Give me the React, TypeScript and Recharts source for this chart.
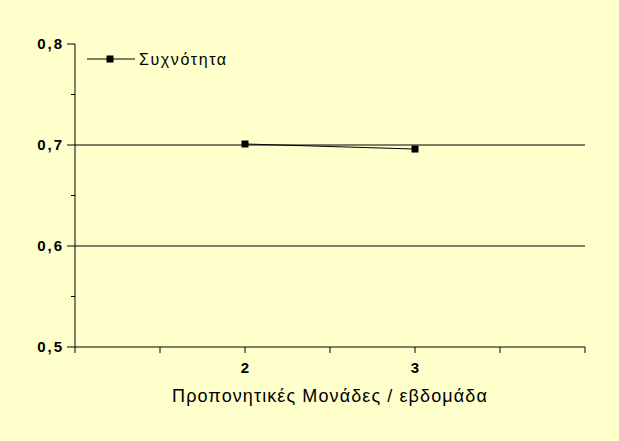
import { LineChart, Line, XAxis, YAxis, ReferenceLine } from 'recharts';

const seriesName = 'Συχνότητα';
const xValues = [2, 3];
const freqValues = [0.701, 0.696];
const xTicks = [1, 1.5, 2, 2.5, 3, 3.5, 4];
const xLabeled = [2, 3];
const yTicks = [0.5, 0.55, 0.6, 0.65, 0.7, 0.75, 0.8];
const yLabeled = [0.5, 0.6, 0.7, 0.8];
const gridValues = [0.6, 0.7];
const xTitle = 'Προπονητικές Μονάδες / εβδομάδα';

const data = xValues.map((x, i) => ({ x, freq: freqValues[i] }));

const FONT = '"Liberation Sans", Arial, sans-serif';
const BG = '#FFFFCC';

const isIn = (list: number[], v: number) => list.some((l) => Math.abs(l - v) < 1e-9);

function YTick(props: any) {
  const { x, y, payload } = props;
  const major = isIn(yLabeled, payload.value);
  const len = major ? 8 : 4;
  return (
    <g>
      <line x1={x - len} x2={x} y1={y} y2={y} stroke="#000" />
      {major && (
        <text x={x - 11} y={y + 5} textAnchor="end" fontFamily={FONT} fontWeight="bold" fontSize={15} letterSpacing={2} fill="#000">
          {payload.value.toFixed(1).replace('.', ',')}
        </text>
      )}
    </g>
  );
}

function XTick(props: any) {
  const { x, y, payload } = props;
  const major = isIn(xLabeled, payload.value);
  return (
    <g>
      <line x1={x} x2={x} y1={y} y2={y + 6} stroke="#000" />
      {major && (
        <text x={x} y={y + 26} textAnchor="middle" fontFamily={FONT} fontWeight="bold" fontSize={15} fill="#000">
          {payload.value}
        </text>
      )}
    </g>
  );
}

function Square(props: any) {
  const { cx, cy } = props;
  if (cx == null || cy == null) return null;
  return <rect x={cx - 3.5} y={cy - 3.5} width={7} height={7} fill="#000" />;
}

export default function App() {
  return (
    <div style={{ position: 'absolute', left: 0, top: 0, width: 619, height: 441, background: BG }}>
      <LineChart width={619} height={441} data={data} margin={{ top: 44, right: 34, left: 0, bottom: 0 }}>
        <XAxis
          dataKey="x"
          type="number"
          domain={[1, 4]}
          ticks={xTicks}
          axisLine={{ stroke: '#000' }}
          tickLine={false}
          tickSize={0}
          tickMargin={0}
          tick={<XTick />}
          interval={0}
          height={94}
        />
        <YAxis
          type="number"
          domain={[0.5, 0.8]}
          ticks={yTicks}
          axisLine={{ stroke: '#000' }}
          tickLine={false}
          tickSize={0}
          tickMargin={0}
          tick={<YTick />}
          interval={0}
          width={75}
        />
        {gridValues.map((v) => (
          <ReferenceLine key={v} y={v} stroke="#000" strokeWidth={1} />
        ))}
        <Line
          dataKey="freq"
          name={seriesName}
          stroke="#000"
          strokeWidth={1}
          dot={<Square />}
          activeDot={false}
          isAnimationActive={false}
        />
      </LineChart>
      <svg style={{ position: 'absolute', left: 85, top: 49 }} width={170} height={22}>
        <line x1={2} x2={50} y1={10} y2={10} stroke="#000" />
        <rect x={21.5} y={6.5} width={7} height={7} fill="#000" />
        <text x={54} y={15.5} fontFamily={FONT} fontSize={16} letterSpacing={1.6} fill="#000">
          {seriesName}
        </text>
      </svg>
      <div
        style={{
          position: 'absolute',
          left: 75,
          width: 510,
          top: 386,
          textAlign: 'center',
          fontFamily: FONT,
          fontSize: 18,
          letterSpacing: 1.1,
          color: '#000',
        }}
      >
        {xTitle}
      </div>
    </div>
  );
}
